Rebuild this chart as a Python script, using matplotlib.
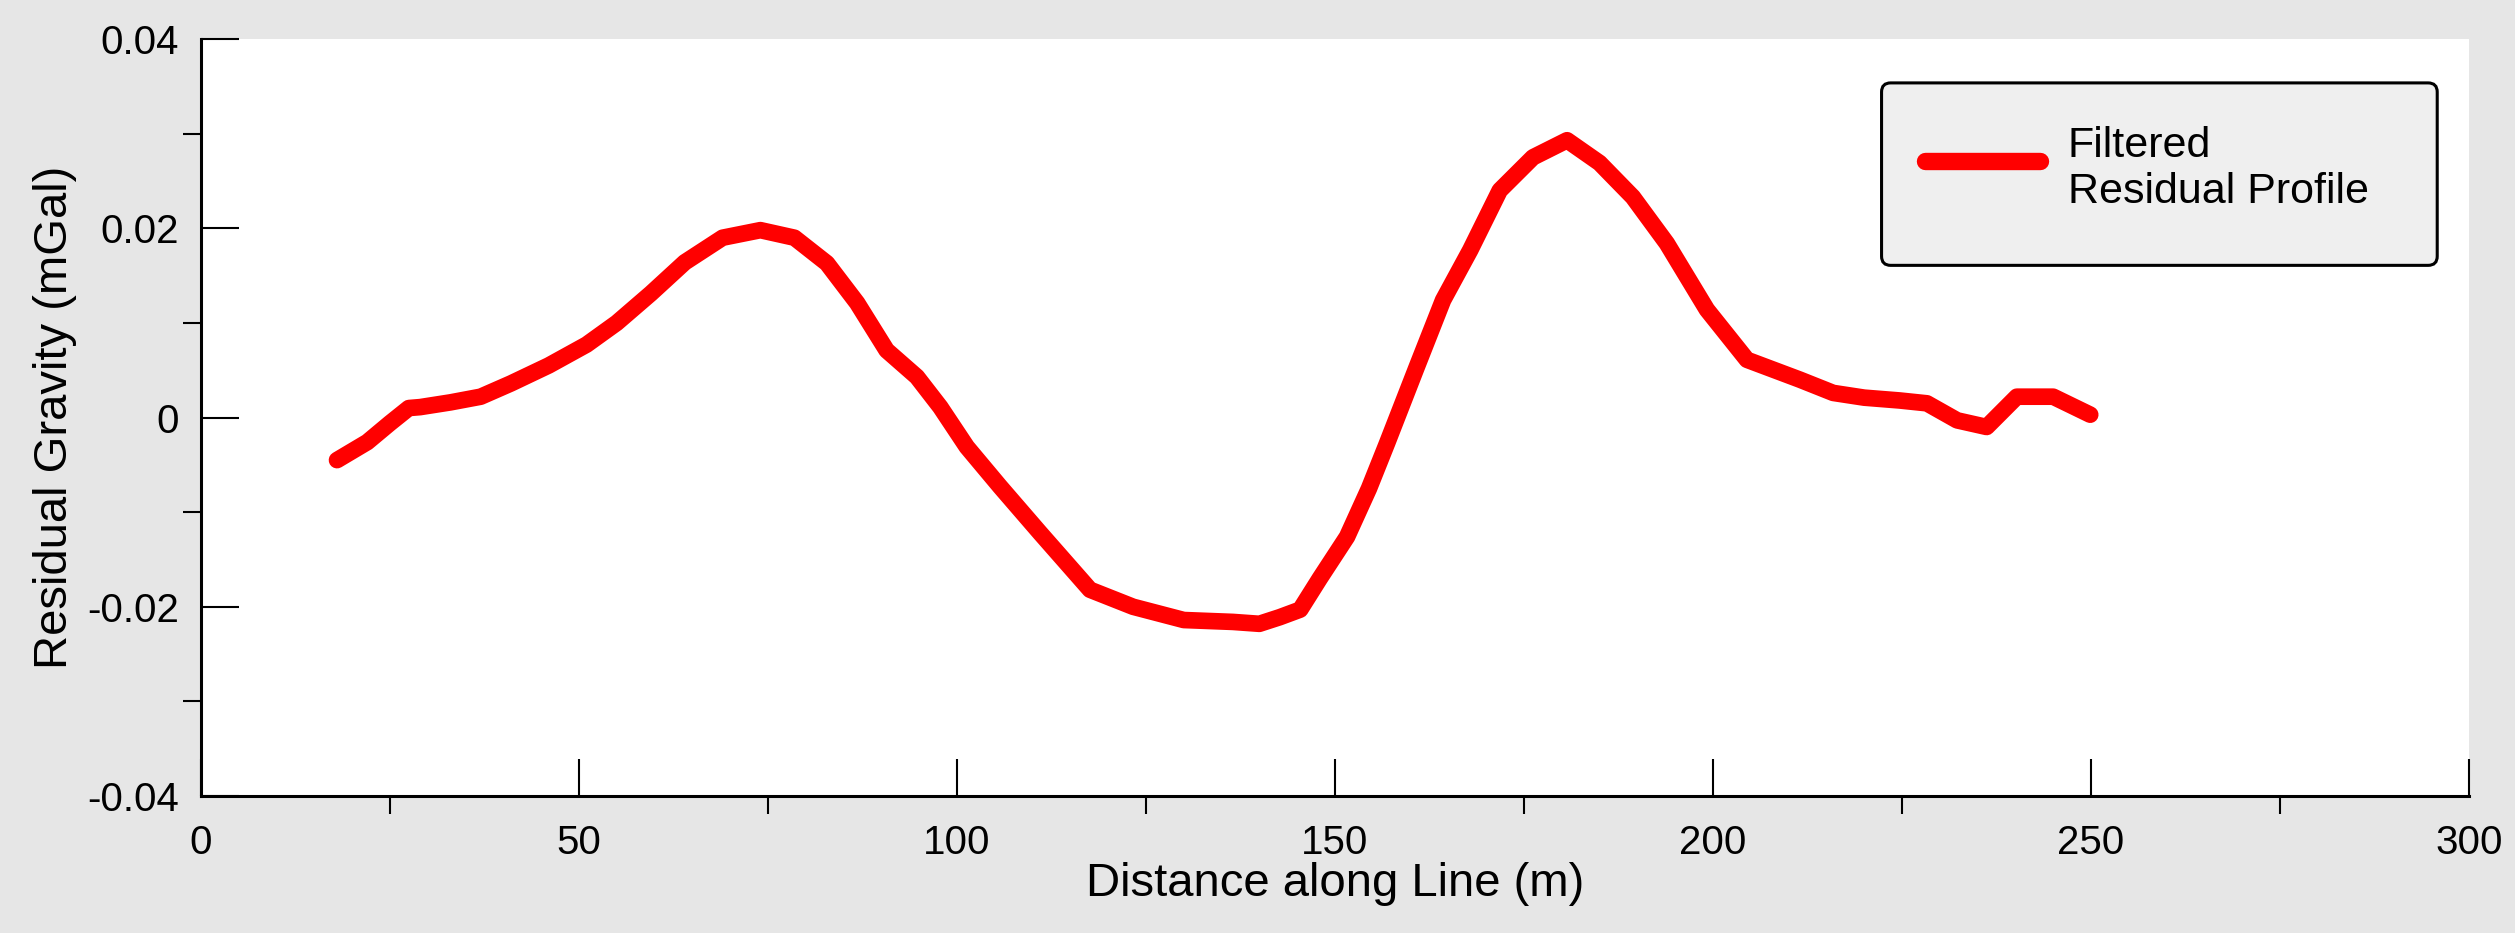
import numpy as np
import matplotlib.pyplot as plt
from matplotlib.patches import FancyBboxPatch
from matplotlib.ticker import MultipleLocator

plt.rcParams['font.family'] = ['Liberation Sans', 'DejaVu Sans']
plt.rcParams['axes.unicode_minus'] = False

# residual gravity profile
distance = [18, 22, 25, 27.5, 29, 33, 37, 41, 46, 51, 55, 59.5, 64, 69, 74,
            78.5, 82.8, 86.8, 90.7, 94.7, 97.8, 101.3, 105.7, 111, 117.6,
            123.3, 130, 136.5, 140, 142.7, 145.4, 148, 151.6, 154.5, 156.9,
            160.8, 164.3, 167.9, 171.8, 176.2, 180.7, 185, 189.4, 193.9,
            199.2, 204.5, 211.5, 215.9, 220, 224.7, 228.3, 232.3, 236.2,
            240.2, 245, 249.9]
residual = [-0.0045, -0.0026, -0.0006, 0.0010, 0.0011, 0.0016, 0.0022, 0.0036,
            0.0055, 0.0077, 0.0100, 0.0131, 0.0164, 0.0190, 0.0198, 0.0190,
            0.0163, 0.0121, 0.0071, 0.0043, 0.0011, -0.0031, -0.0073, -0.0122,
            -0.0182, -0.0200, -0.0214, -0.0216, -0.0218, -0.0211, -0.0203,
            -0.0170, -0.0126, -0.0075, -0.0027, 0.0053, 0.0124, 0.0177,
            0.0240, 0.0275, 0.0293, 0.0269, 0.0233, 0.0184, 0.0114, 0.0061,
            0.0040, 0.0026, 0.0021, 0.0018, 0.0015, -0.0003, -0.0010, 0.0022,
            0.0022, 0.0003]

xticks = [0, 50, 100, 150, 200, 250, 300]
yticks = [-0.04, -0.02, 0, 0.02, 0.04]
ytick_labels = ['-0.04', '-0.02', '0', '0.02', '0.04']

fig = plt.figure(figsize=(25.15, 9.33), dpi=100, facecolor='#e6e6e6')
ax = fig.add_axes([0.0799, 0.1468, 0.9018, 0.8114])
ax.set_facecolor('white')

ax.plot(distance, residual, color='#ff0000', lw=12,
        solid_capstyle='round', solid_joinstyle='round',
        label='Filtered\nResidual Profile')

ax.set_xlim(0, 300)
ax.set_ylim(-0.04, 0.04)
ax.set_xticks(xticks)
ax.set_yticks(yticks)
ax.set_yticklabels(ytick_labels)
ax.xaxis.set_minor_locator(MultipleLocator(25))
ax.yaxis.set_minor_locator(MultipleLocator(0.01))

for s in ['top', 'right']:
    ax.spines[s].set_visible(False)
for s in ['left', 'bottom']:
    ax.spines[s].set_linewidth(2.2)

ax.tick_params(which='major', direction='in', length=27, width=1.5,
               labelsize=29, top=False, right=False)
ax.tick_params(which='minor', direction='out', length=13, width=1.5,
               top=False, right=False)
ax.tick_params(axis='y', which='major', pad=16)
ax.tick_params(axis='x', which='major', pad=20)

ax.set_xlabel('Distance along Line (m)', fontsize=34)
ax.set_ylabel('Residual Gravity (mGal)', fontsize=34)
ax.xaxis.set_label_coords(0.5, -0.087)
ax.yaxis.set_label_coords(-0.0547, 0.5)

# legend box (drawn separately so its height matches the original)
leg_box = (0.741, 0.701, 0.245, 0.241)
frame = FancyBboxPatch(leg_box[:2], leg_box[2], leg_box[3],
                       boxstyle='round,pad=0,rounding_size=0.004',
                       mutation_aspect=3.0, transform=ax.transAxes,
                       facecolor='#efefef', edgecolor='black', lw=2.2,
                       zorder=4)
ax.add_patch(frame)

leg = ax.legend(loc='upper left', bbox_to_anchor=leg_box,
                mode='expand', borderaxespad=0, fontsize=31,
                handlelength=2.68, handleheight=2.5, handletextpad=0.65,
                borderpad=1.0, frameon=False)
leg.set_zorder(5)
leg.get_texts()[0].set_linespacing(1.2)
hl = leg.get_lines()[0]
hl.set_linewidth(12.5)
hl.set_ydata(np.asarray(hl.get_ydata()) - 2.3)

fig.savefig('out.png', dpi=100, facecolor=fig.get_facecolor())
